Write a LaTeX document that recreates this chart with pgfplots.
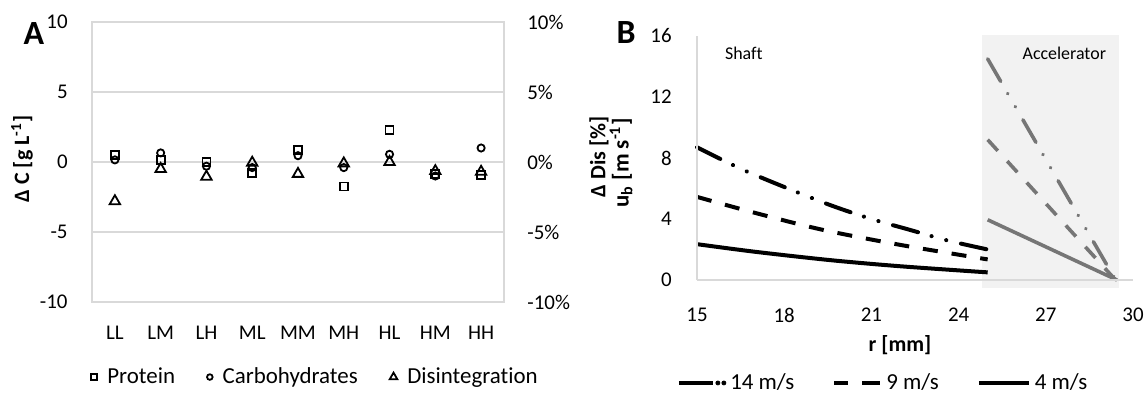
\documentclass[border=0pt]{standalone}
\usepackage{fontspec}
\setmainfont{Carlito}[Ligatures=NoCommon]
\usepackage{pgfplots}
\pgfplotsset{compat=1.18}
\definecolor{gridc}{RGB}{217,217,217}
\definecolor{accg}{RGB}{118,118,118}
\definecolor{shadec}{RGB}{242,242,242}
\pgfplotsset{smallmark legend/.style={legend image code/.code={\path[##1, mark size=#1] plot coordinates {(0bp,0bp)};}}}
\begin{document}
\begin{tikzpicture}
\path[use as bounding box] (0,0) rectangle (572.5bp,197.5bp);
% ---------------- Panel A ----------------
\begin{axis}[
  at={(46bp,46.5bp)}, anchor=south west, scale only axis,
  width=206bp, height=140bp,
  xmin=0.5, xmax=9.5, ymin=-10, ymax=10,
  xtick={1,...,9}, xticklabels={LL,LM,LH,ML,MM,MH,HL,HM,HH},
  ytick={-10,-5,0,5,10}, yticklabels={-10,-5,0,5,10},
  ymajorgrids, grid style={gridc, line width=0.75bp},
  axis line style={gridc, line width=0.75bp},
  major tick length=0pt,
  tick label style={font=\fontsize{10.5}{12}\selectfont, inner sep=0pt},
  yticklabel style={xshift=-12bp},
  xticklabel style={yshift=-12bp},
  clip=false,
  legend style={at={(0.545,-0.268)}, anchor=center, draw=none, fill=none,
    font=\fontsize{11.5}{13}\selectfont, legend columns=3,
    /tikz/every odd column/.append style={column sep=3bp},
    /tikz/every even column/.append style={column sep=14bp}},
]
\addplot[only marks, mark=square, mark size=2bp, line width=0.9bp, black, smallmark legend=1.5bp]
  coordinates {(1,0.5) (2,0.15) (3,0.0) (4,-0.8) (5,0.85) (6,-1.75) (7,2.3) (8,-0.85) (9,-0.95)};
\addlegendentry{Protein}
\addplot[only marks, mark=o, mark size=1.8bp, line width=0.9bp, black, smallmark legend=1.4bp]
  coordinates {(1,0.15) (2,0.65) (3,-0.3) (4,-0.4) (5,0.45) (6,-0.4) (7,0.55) (8,-1.0) (9,1.0)};
\addlegendentry{Carbohydrates}
\addplot[only marks, mark=triangle, mark size=3bp, line width=0.9bp, black, smallmark legend=2.2bp]
  coordinates {(1,-2.8) (2,-0.5) (3,-1.05) (4,-0.05) (5,-0.85) (6,-0.1) (7,0.0) (8,-0.65) (9,-0.7)};
\addlegendentry{Disintegration}
\end{axis}
\begin{axis}[
  at={(46bp,46.5bp)}, anchor=south west, scale only axis,
  width=206bp, height=140bp,
  xmin=0.5, xmax=9.5, ymin=-10, ymax=10,
  axis x line=none, axis y line*=right,
  axis line style={-, gridc, line width=0.75bp},
  ytick={-10,-5,0,5,10}, yticklabels={-10\%,-5\%,0\%,5\%,10\%},
  major tick length=0pt,
  tick label style={font=\fontsize{10.5}{12}\selectfont, inner sep=0pt},
  yticklabel style={anchor=west, xshift=11.5bp},
]
\addplot[draw=none] coordinates {(1,0)};
\end{axis}
% ---------------- Panel B ----------------
\begin{axis}[
  at={(348.5bp,57.5bp)}, anchor=south west, scale only axis,
  width=218bp, height=122bp,
  xmin=15, xmax=30, ymin=0, ymax=16,
  axis lines=left, axis line style={-, gridc, line width=1bp},
  xtick={15,18,...,30}, ytick={0,4,...,16},
  major tick length=0pt,
  /pgf/number format/assume math mode=true,
  tick label style={font=\fontsize{10.5}{12}\selectfont, inner sep=0pt},
  yticklabel style={xshift=-12.5bp},
  xticklabel style={yshift=-14bp},
  clip=false, axis on top,
  legend style={at={(0.429,-0.422)}, anchor=center, draw=none, fill=none,
    font=\fontsize{11.5}{13}\selectfont, legend columns=3,
    /tikz/every odd column/.append style={column sep=0bp},
    /tikz/every even column/.append style={column sep=17bp}},
]
\addplot[fill=shadec, draw=none, forget plot] coordinates {(24.8,-0.52) (29.52,-0.52) (29.52,16.07) (24.8,16.07)} -- cycle;
% shaft (black)
\addplot[black, line width=2bp, line cap=round, smooth, forget plot,
  dash pattern=on 13bp off 7bp on 0.1bp off 7.5bp on 0.1bp off 7.5bp]
  coordinates {(15,8.7) (16.5,7.3) (18,6.1) (19.6,4.9) (21,4.0) (22.3,3.3) (23.6,2.6) (25,2.0)};
\addplot[black, line width=2bp, smooth, forget plot, dash pattern=on 7.5bp off 7bp]
  coordinates {(15,5.45) (17,4.4) (19.3,3.3) (22,2.3) (25,1.35)};
\addplot[black, line width=2bp, smooth, forget plot]
  coordinates {(15,2.35) (17,1.85) (19.6,1.3) (22,0.9) (25,0.5)};
% accelerator (gray)
\addplot[accg, line width=1.8bp, line cap=round, forget plot,
  dash pattern=on 13bp off 7bp on 0.1bp off 7.5bp on 0.1bp off 7.5bp]
  coordinates {(25,14.5) (29.4,0)};
\addplot[accg, line width=1.8bp, forget plot, dash pattern=on 7.5bp off 7bp]
  coordinates {(25,9.2) (29.4,0)};
\addplot[accg, line width=1.8bp, forget plot]
  coordinates {(25,3.95) (29.45,0)};
\addlegendimage{legend image code/.code={
  \draw[black, line width=2bp] (0bp,0bp) -- (17bp,0bp);
  \fill[black] (19.5bp,0bp) circle (1bp);
  \fill[black] (22.5bp,0bp) circle (1bp);}}
\addlegendentry{14 m/s}
\addlegendimage{legend image code/.code={
  \draw[black, line width=2bp] (0bp,0bp) -- (7bp,0bp);
  \draw[black, line width=2bp] (14bp,0bp) -- (23bp,0bp);}}
\addlegendentry{9 m/s}
\addlegendimage{legend image code/.code={
  \draw[black, line width=2bp] (0bp,0bp) -- (25bp,0bp);}}
\addlegendentry{4 m/s}
\end{axis}
% ---------------- labels ----------------
\node[font=\fontsize{17}{19}\selectfont\bfseries] at (17bp,180.5bp) {A};
\node[font=\fontsize{17}{19}\selectfont\bfseries] at (313bp,181bp) {B};
\node[rotate=90, font=\fontsize{11}{13}\selectfont\bfseries] at (11bp,118bp) {Δ C [g L\textsuperscript{-1}]};
\node[rotate=90, font=\fontsize{11}{13}\selectfont\bfseries] at (299.5bp,119bp) {Δ Dis [\%]};
\node[rotate=90, font=\fontsize{11.5}{13}\selectfont\bfseries] at (310.5bp,116bp) {u\textsubscript{b} [m s\textsuperscript{-1}]};
\node[font=\fontsize{11}{13}\selectfont\bfseries] at (450bp,25bp) {r [mm]};
\node[anchor=west, font=\fontsize{9}{11}\selectfont] at (359bp,171bp) {Shaft};
\node[anchor=east, font=\fontsize{9}{11}\selectfont] at (556.5bp,171bp) {Accelerator};
\end{tikzpicture}
\end{document}
